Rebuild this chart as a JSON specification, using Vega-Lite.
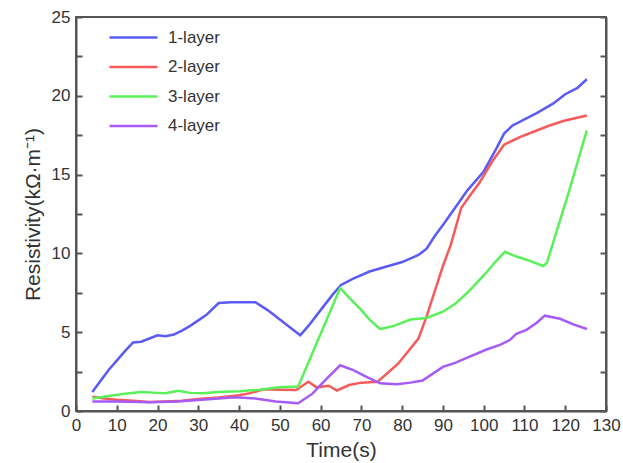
{
  "$schema": "https://vega.github.io/schema/vega-lite/v6.json",
  "width": 530,
  "height": 394,
  "autosize": {"type": "none"},
  "padding": {"left": 76, "top": 17, "right": 17, "bottom": 52},
  "background": "white",
  "config": {
    "font": "Liberation Sans",
    "view": {"stroke": "#555", "strokeWidth": 2},
    "axis": {"grid": false, "domainColor": "#555", "domainWidth": 2, "tickColor": "#555", "tickWidth": 2, "labelFontSize": 17, "labelColor": "#333", "titleFontSize": 21, "titleFontWeight": "normal", "titleColor": "#333", "labelFont": "Liberation Sans", "titleFont": "Liberation Sans", "labelOverlap": false}
  },
  "data": {"values": [
    {"t":4,"v":1.2,"s":"1-layer"},{"t":6,"v":1.9,"s":"1-layer"},{"t":8,"v":2.6,"s":"1-layer"},{"t":10,"v":3.2,"s":"1-layer"},{"t":12,"v":3.8,"s":"1-layer"},{"t":14,"v":4.35,"s":"1-layer"},{"t":16,"v":4.4,"s":"1-layer"},{"t":18,"v":4.6,"s":"1-layer"},{"t":20,"v":4.8,"s":"1-layer"},{"t":22,"v":4.75,"s":"1-layer"},{"t":24,"v":4.85,"s":"1-layer"},{"t":26,"v":5.1,"s":"1-layer"},{"t":28,"v":5.4,"s":"1-layer"},{"t":30,"v":5.75,"s":"1-layer"},{"t":32,"v":6.1,"s":"1-layer"},{"t":35,"v":6.85,"s":"1-layer"},{"t":38,"v":6.9,"s":"1-layer"},{"t":41,"v":6.9,"s":"1-layer"},{"t":44,"v":6.9,"s":"1-layer"},{"t":47,"v":6.4,"s":"1-layer"},{"t":50,"v":5.8,"s":"1-layer"},{"t":53,"v":5.2,"s":"1-layer"},{"t":55,"v":4.8,"s":"1-layer"},{"t":57,"v":5.4,"s":"1-layer"},{"t":60,"v":6.4,"s":"1-layer"},{"t":63,"v":7.4,"s":"1-layer"},{"t":65,"v":8.0,"s":"1-layer"},{"t":68,"v":8.4,"s":"1-layer"},{"t":72,"v":8.85,"s":"1-layer"},{"t":76,"v":9.15,"s":"1-layer"},{"t":80,"v":9.45,"s":"1-layer"},{"t":84,"v":9.9,"s":"1-layer"},{"t":86,"v":10.3,"s":"1-layer"},{"t":88,"v":11.1,"s":"1-layer"},{"t":90,"v":11.8,"s":"1-layer"},{"t":93,"v":12.9,"s":"1-layer"},{"t":96,"v":14.0,"s":"1-layer"},{"t":100,"v":15.2,"s":"1-layer"},{"t":103,"v":16.6,"s":"1-layer"},{"t":105,"v":17.6,"s":"1-layer"},{"t":107,"v":18.1,"s":"1-layer"},{"t":110,"v":18.5,"s":"1-layer"},{"t":113,"v":18.9,"s":"1-layer"},{"t":117,"v":19.5,"s":"1-layer"},{"t":120,"v":20.1,"s":"1-layer"},{"t":123,"v":20.5,"s":"1-layer"},{"t":125.3,"v":21.05,"s":"1-layer"},
    {"t":4,"v":0.9,"s":"2-layer"},{"t":7,"v":0.8,"s":"2-layer"},{"t":10,"v":0.72,"s":"2-layer"},{"t":14,"v":0.65,"s":"2-layer"},{"t":18,"v":0.57,"s":"2-layer"},{"t":22,"v":0.6,"s":"2-layer"},{"t":26,"v":0.65,"s":"2-layer"},{"t":30,"v":0.76,"s":"2-layer"},{"t":35,"v":0.85,"s":"2-layer"},{"t":40,"v":1.0,"s":"2-layer"},{"t":43,"v":1.15,"s":"2-layer"},{"t":46,"v":1.38,"s":"2-layer"},{"t":50,"v":1.35,"s":"2-layer"},{"t":54,"v":1.33,"s":"2-layer"},{"t":57,"v":1.86,"s":"2-layer"},{"t":59,"v":1.5,"s":"2-layer"},{"t":62,"v":1.6,"s":"2-layer"},{"t":64,"v":1.3,"s":"2-layer"},{"t":67,"v":1.65,"s":"2-layer"},{"t":70,"v":1.8,"s":"2-layer"},{"t":74,"v":1.86,"s":"2-layer"},{"t":79,"v":3.0,"s":"2-layer"},{"t":84,"v":4.6,"s":"2-layer"},{"t":86,"v":6.0,"s":"2-layer"},{"t":88,"v":7.6,"s":"2-layer"},{"t":90,"v":9.2,"s":"2-layer"},{"t":92,"v":10.6,"s":"2-layer"},{"t":94.5,"v":12.9,"s":"2-layer"},{"t":97,"v":13.8,"s":"2-layer"},{"t":99,"v":14.5,"s":"2-layer"},{"t":102,"v":15.8,"s":"2-layer"},{"t":105,"v":16.9,"s":"2-layer"},{"t":109,"v":17.4,"s":"2-layer"},{"t":113,"v":17.8,"s":"2-layer"},{"t":116,"v":18.1,"s":"2-layer"},{"t":119.5,"v":18.4,"s":"2-layer"},{"t":125.3,"v":18.75,"s":"2-layer"},
    {"t":4,"v":0.8,"s":"3-layer"},{"t":8,"v":0.95,"s":"3-layer"},{"t":12,"v":1.1,"s":"3-layer"},{"t":16,"v":1.2,"s":"3-layer"},{"t":20,"v":1.15,"s":"3-layer"},{"t":22,"v":1.12,"s":"3-layer"},{"t":25,"v":1.28,"s":"3-layer"},{"t":28,"v":1.15,"s":"3-layer"},{"t":31,"v":1.12,"s":"3-layer"},{"t":35,"v":1.2,"s":"3-layer"},{"t":40,"v":1.25,"s":"3-layer"},{"t":45,"v":1.35,"s":"3-layer"},{"t":50,"v":1.5,"s":"3-layer"},{"t":54.5,"v":1.55,"s":"3-layer"},{"t":64.8,"v":7.8,"s":"3-layer"},{"t":67,"v":7.2,"s":"3-layer"},{"t":70,"v":6.4,"s":"3-layer"},{"t":72,"v":5.8,"s":"3-layer"},{"t":74.6,"v":5.2,"s":"3-layer"},{"t":78,"v":5.4,"s":"3-layer"},{"t":82,"v":5.8,"s":"3-layer"},{"t":86,"v":5.9,"s":"3-layer"},{"t":90,"v":6.3,"s":"3-layer"},{"t":93,"v":6.8,"s":"3-layer"},{"t":96,"v":7.5,"s":"3-layer"},{"t":100,"v":8.6,"s":"3-layer"},{"t":103,"v":9.5,"s":"3-layer"},{"t":105.2,"v":10.1,"s":"3-layer"},{"t":108,"v":9.8,"s":"3-layer"},{"t":110.5,"v":9.6,"s":"3-layer"},{"t":114.6,"v":9.2,"s":"3-layer"},{"t":115.5,"v":9.4,"s":"3-layer"},{"t":121,"v":14.0,"s":"3-layer"},{"t":125.3,"v":17.8,"s":"3-layer"},
    {"t":4,"v":0.6,"s":"4-layer"},{"t":10,"v":0.6,"s":"4-layer"},{"t":18,"v":0.55,"s":"4-layer"},{"t":25,"v":0.6,"s":"4-layer"},{"t":30,"v":0.7,"s":"4-layer"},{"t":35,"v":0.8,"s":"4-layer"},{"t":39,"v":0.87,"s":"4-layer"},{"t":44,"v":0.8,"s":"4-layer"},{"t":49,"v":0.6,"s":"4-layer"},{"t":54.5,"v":0.49,"s":"4-layer"},{"t":58,"v":1.1,"s":"4-layer"},{"t":61.5,"v":2.05,"s":"4-layer"},{"t":64.8,"v":2.9,"s":"4-layer"},{"t":68,"v":2.6,"s":"4-layer"},{"t":71,"v":2.2,"s":"4-layer"},{"t":74.6,"v":1.76,"s":"4-layer"},{"t":78.7,"v":1.7,"s":"4-layer"},{"t":82,"v":1.8,"s":"4-layer"},{"t":85,"v":1.93,"s":"4-layer"},{"t":90,"v":2.8,"s":"4-layer"},{"t":93,"v":3.05,"s":"4-layer"},{"t":97,"v":3.5,"s":"4-layer"},{"t":100.7,"v":3.9,"s":"4-layer"},{"t":104,"v":4.2,"s":"4-layer"},{"t":106.4,"v":4.5,"s":"4-layer"},{"t":108,"v":4.9,"s":"4-layer"},{"t":110.5,"v":5.15,"s":"4-layer"},{"t":113,"v":5.6,"s":"4-layer"},{"t":115,"v":6.05,"s":"4-layer"},{"t":118.7,"v":5.85,"s":"4-layer"},{"t":122,"v":5.5,"s":"4-layer"},{"t":125.3,"v":5.2,"s":"4-layer"}
  ]},
  "layer": [
    {
      "mark": {"type": "line", "strokeWidth": 2.5},
      "encoding": {
        "x": {"field": "t", "type": "quantitative", "scale": {"domain": [0, 130], "nice": false, "zero": false},
              "axis": {"title": "Time(s)", "values": [0,10,20,30,40,50,60,70,80,90,100,110,120,130], "tickSize": -6, "labelPadding": 12, "titlePadding": 6, "labelOverlap": false, "labelFlush": false}},
        "y": {"field": "v", "type": "quantitative", "scale": {"domain": [0, 25], "nice": false},
              "axis": {"orient": "left", "title": "Resistivity(kΩ·m⁻¹)", "values": [0,2.5,5,7.5,10,12.5,15,17.5,20,22.5,25], "labelExpr": "datum.value % 5 === 0 ? datum.label : ''", "tickSize": -6, "labelPadding": 12, "titlePadding": 8}},
        "color": {"field": "s", "type": "nominal",
                  "scale": {"domain": ["1-layer","2-layer","3-layer","4-layer"], "range": ["#5a5af6","#f65a5a","#5af05a","#a65af6"]},
                  "legend": {"title": null, "orient": "none", "legendX": 46, "legendY": 9, "padding": 0, "symbolType": "M-2.4,0H2.4", "symbolSize": 400, "symbolStrokeWidth": 2.5, "labelFontSize": 17, "labelColor": "#333", "labelOffset": 23, "rowPadding": 9.5, "labelFont": "Liberation Sans"}},
        "order": {"field": "t", "type": "quantitative"}
      }
    },
    {
      "mark": {"type": "line", "strokeOpacity": 0},
      "encoding": {
        "x": {"field": "t", "type": "quantitative", "scale": {"domain": [0, 130], "nice": false, "zero": false}},
        "y": {"field": "v", "type": "quantitative",
              "axis": {"orient": "right", "title": null, "labels": false, "values": [0,2.5,5,7.5,10,12.5,15,17.5,20,22.5,25], "tickSize": -6}},
        "detail": {"field": "s"}
      }
    }
  ],
  "resolve": {"axis": {"y": "independent"}}
}
